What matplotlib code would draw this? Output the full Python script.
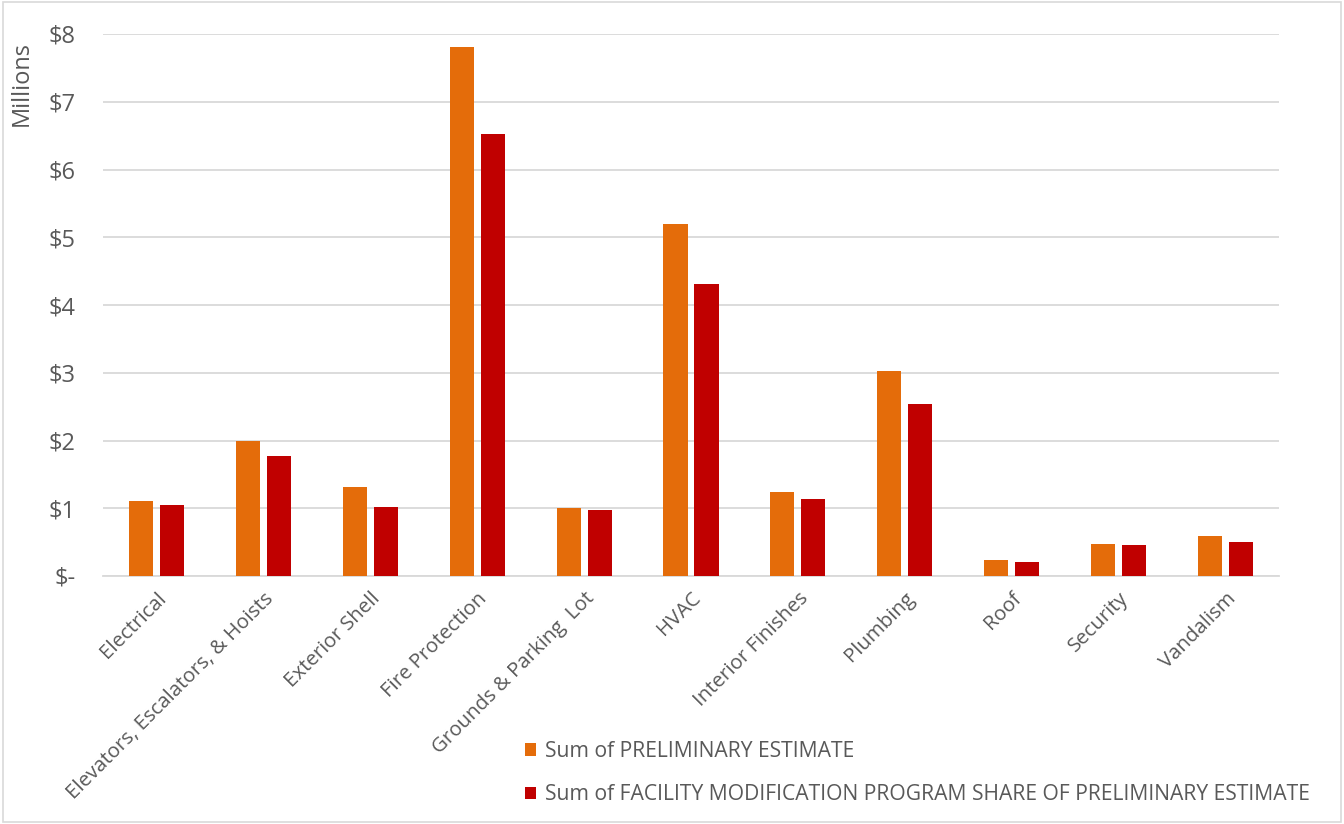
import matplotlib.pyplot as plt
import numpy as np
from matplotlib.patches import Rectangle

# Daten (Millionen $)
categories = ["Electrical", "Elevators, Escalators, & Hoists", "Exterior Shell",
              "Fire Protection", "Grounds & Parking  Lot", "HVAC", "Interior Finishes",
              "Plumbing", "Roof", "Security", "Vandalism"]
preliminary = [1.11, 1.99, 1.31, 7.81, 1.00, 5.20, 1.24, 3.03, 0.24, 0.47, 0.59]
fmp_share = [1.05, 1.77, 1.02, 6.52, 0.97, 4.31, 1.14, 2.54, 0.21, 0.46, 0.50]
ytick_labels = ["$-", "$1", "$2", "$3", "$4", "$5", "$6", "$7", "$8"]
series_names = ["Sum of PRELIMINARY ESTIMATE",
                "Sum of FACILITY MODIFICATION PROGRAM SHARE OF PRELIMINARY ESTIMATE"]

plt.rcParams['font.family'] = ['Open Sans', 'DejaVu Sans']
grey = '#595959'
c_orange = '#E46C0A'
c_red = '#C00000'

fig = plt.figure(figsize=(13.44, 8.24), dpi=100)
ax = fig.add_axes([103 / 1344, 1 - 576 / 824, (1279 - 103) / 1344, (576 - 34) / 824])

x = np.arange(len(categories))
w = 0.225
off = 0.145
ax.bar(x - off, preliminary, w, color=c_orange, label=series_names[0], zorder=3)
ax.bar(x + off, fmp_share, w, color=c_red, label=series_names[1], zorder=3)

ax.set_xlim(-0.5, len(categories) - 0.5)
ax.set_ylim(0, 8)
ax.set_yticks(range(9))
ax.set_yticklabels(ytick_labels, color=grey, fontsize=17)
ax.yaxis.grid(True, color='#D9D9D9', linewidth=1.3, zorder=0)
ax.set_xticks(x)
ax.set_xticklabels(categories, rotation=45, ha='right', rotation_mode='anchor',
                   color=grey, fontsize=14.7)
ax.tick_params(axis='both', length=0)
ax.tick_params(axis='y', pad=20)
ax.tick_params(axis='x', pad=9)
for s in ['top', 'right', 'left']:
    ax.spines[s].set_visible(False)
ax.spines['bottom'].set_color('#D9D9D9')
ax.spines['bottom'].set_linewidth(1.3)

fig.text(22 / 1344, 1 - 83 / 824, "Millions", rotation=90, ha='center', va='center',
         color=grey, fontsize=17)

ax.legend(loc='upper left', bbox_to_anchor=(525 / 1344, 1 - 741 / 824),
          bbox_transform=fig.transFigure, frameon=False, fontsize=15.2,
          labelcolor=grey, handlelength=0.5, handleheight=0.5, handletextpad=0.45,
          labelspacing=1.05, borderpad=0, borderaxespad=0)

# Rahmen um die Grafik
fig.patches.append(Rectangle((0.002, 0.002), 0.996, 0.996, transform=fig.transFigure,
                             fill=False, edgecolor='#D9D9D9', linewidth=1.2))

fig.savefig("out.png", dpi=100)
